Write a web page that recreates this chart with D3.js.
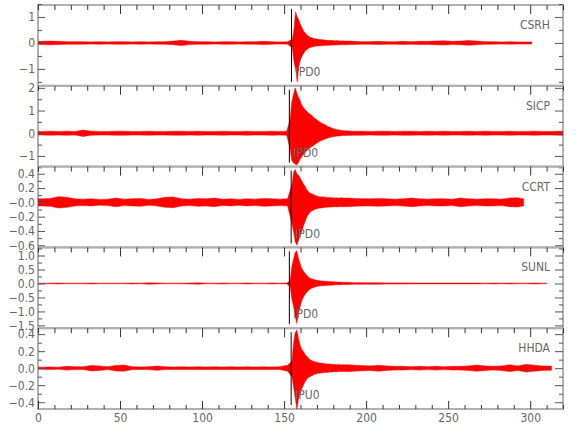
<!DOCTYPE html>
<html>
<head>
<meta charset="utf-8">
<script src="https://cdn.jsdelivr.net/npm/d3@7"></script>
<style>
  body { margin: 0; background: #fff; }
  svg text { font-family: "DejaVu Sans", sans-serif; font-stretch: condensed; fill: #666; font-size: 12px; }
</style>
</head>
<body>
<svg id="chart" width="580" height="440"></svg>
<script>
// station metadata
const stations = ["CSRH", "SICP", "CCRT", "SUNL", "HHDA"];
const pickLabels = ["IPD0", "IPD0", "IPD0", "IPD0", "IPU0"];
const pickTimes = [154.5, 153.2, 154.3, 153.2, 154.3];
const traceEnds = [301, 320, 296, 310, 313];

// y axes per panel
const yDomains = [[-1.65, 1.46], [-1.47, 2.09], [-0.63, 0.5], [-1.6, 1.29], [-0.48, 0.47]];
const yMajor = [[1, 0, -1], [2, 1, 0, -1], [0.4, 0.2, 0, -0.2, -0.4, -0.6], [1, 0.5, 0, -0.5, -1, -1.5], [0.4, 0.2, 0, -0.2, -0.4]];
const yLabels = [["1", "0", "−1"], ["2", "1", "0", "−1"], ["0.4", "0.2", "−0.0", "−0.2", "−0.4", "−0.6"],
                 ["1.0", "0.5", "0.0", "−0.5", "−1.0", "−1.5"], ["0.4", "0.2", "0.0", "−0.2", "−0.4"]];
const yMinor = [[1.5, 0.5, -0.5, -1.5], [1.5, 0.5, -0.5, -1.5], [0.3, 0.1, -0.1, -0.3, -0.5],
                [1.25, 0.75, 0.25, -0.25, -0.75, -1.25], [0.3, 0.1, -0.1, -0.3]];

// x axis
const xTicks = [0, 50, 100, 150, 200, 250, 300];
const xMinorTicks = [0, 10, 20, 30, 40, 60, 70, 80, 90, 110, 120, 130, 140, 160, 170, 180, 190,
                     210, 220, 230, 240, 260, 270, 280, 290, 310, 320];

// background noise half-amplitude, one value per 5 s
const noiseStep = 5;
const csrhNoise = [0.06,0.07,0.06,0.05,0.05,0.05,0.04,0.05,0.04,0.05,
                   0.05,0.04,0.05,0.04,0.05,0.05,0.07,0.1,0.06,0.05,
                   0.05,0.04,0.05,0.05,0.04,0.05,0.05,0.06,0.05,0.04,
                   0.05,0.3,0.2,0.12,0.1,0.08,0.08,0.07,0.06,0.05,
                   0.05,0.06,0.05,0.05,0.06,0.05,0.06,0.06,0.07,0.08,
                   0.06,0.07,0.09,0.07,0.05,0.05,0.04,0.05,0.04,0.04,0.04];
const sicpNoise = [0.08,0.09,0.08,0.09,0.08,0.14,0.09,0.08,0.08,0.09,
                   0.09,0.08,0.08,0.09,0.08,0.08,0.09,0.09,0.08,0.09,
                   0.08,0.08,0.09,0.08,0.08,0.09,0.08,0.08,0.09,0.08,
                   0.09,1.0,0.6,0.3,0.15,0.12,0.11,0.1,0.09,0.09,
                   0.08,0.09,0.09,0.08,0.09,0.09,0.08,0.09,0.08,0.09,
                   0.08,0.08,0.09,0.08,0.09,0.08,0.08,0.09,0.08,0.08,
                   0.09,0.08,0.08,0.09];
const ccrtNoise = [0.05,0.055,0.08,0.07,0.05,0.045,0.05,0.04,0.045,0.06,
                   0.045,0.05,0.055,0.04,0.05,0.07,0.075,0.05,0.045,0.055,
                   0.05,0.06,0.045,0.05,0.04,0.05,0.045,0.055,0.05,0.045,
                   0.05,0.4,0.2,0.1,0.08,0.07,0.06,0.055,0.055,0.05,
                   0.05,0.055,0.05,0.045,0.05,0.06,0.05,0.045,0.05,0.05,
                   0.045,0.06,0.05,0.045,0.05,0.05,0.045,0.06,0.065,0.05];
const sunlNoise = [0.012,0.012,0.015,0.012,0.012,0.012,0.015,0.012,0.012,0.012,
                   0.012,0.015,0.012,0.025,0.015,0.012,0.012,0.012,0.015,0.025,
                   0.012,0.012,0.015,0.012,0.012,0.015,0.012,0.012,0.015,0.012,
                   0.015,0.5,0.2,0.1,0.07,0.05,0.04,0.04,0.03,0.03,
                   0.025,0.025,0.02,0.02,0.02,0.015,0.015,0.015,0.015,0.015,
                   0.015,0.015,0.015,0.015,0.012,0.015,0.012,0.015,0.012,0.012,0.015,0.012];
const hhdaNoise = [0.012,0.015,0.012,0.022,0.017,0.017,0.032,0.027,0.017,0.032,
                   0.036,0.017,0.015,0.017,0.025,0.017,0.015,0.017,0.015,0.017,
                   0.015,0.017,0.015,0.017,0.015,0.017,0.015,0.017,0.015,0.017,
                   0.035,0.3,0.15,0.08,0.06,0.05,0.045,0.04,0.035,0.03,
                   0.027,0.035,0.027,0.022,0.022,0.017,0.022,0.017,0.022,0.017,
                   0.022,0.022,0.027,0.036,0.027,0.022,0.027,0.04,0.027,0.045,
                   0.035,0.027,0.025];

// event envelope, one value per 1 s after the pick
const eventStep = 1;
const csrhUp = [0.15,0.5,1.2,1.0,0.88,0.7,0.58,0.45,0.38,0.3,0.26,0.22,0.2,0.17,0.16,0.15,0.14,0.13,
                0.12,0.12,0.11,0.1,0.1,0.09,0.1,0.09,0.08,0.09,0.08,0.08,0.07,0.08,0.07,0.07,0.07,0.07];
const csrhDn = [-0.2,-0.7,-1.0,-1.5,-0.9,-0.65,-0.5,-0.4,-0.3,-0.25,-0.2,-0.18,-0.16,-0.14,-0.13,-0.12,-0.12,-0.11,
                -0.11,-0.1,-0.1,-0.09,-0.09,-0.09,-0.08,-0.08,-0.08,-0.08,-0.07,-0.07,-0.07,-0.07,-0.07,-0.07,-0.06,-0.06];
const sicpUp = [0.6,1.4,1.7,2.0,1.8,1.6,1.45,1.25,1.15,1.05,0.98,0.9,0.85,0.8,0.72,0.66,0.6,0.55,
                0.5,0.45,0.42,0.38,0.34,0.3,0.27,0.24,0.21,0.19,0.17,0.15,0.14,0.13,0.12,0.11,0.11,0.1];
const sicpDn = [-0.7,-1.2,-1.3,-1.35,-1.4,-1.3,-1.15,-1.05,-0.95,-0.85,-0.78,-0.7,-0.65,-0.6,-0.55,-0.5,-0.45,-0.4,
                -0.36,-0.32,-0.3,-0.27,-0.24,-0.21,-0.19,-0.17,-0.15,-0.14,-0.13,-0.12,-0.12,-0.11,-0.1,-0.1,-0.1,-0.09];
const ccrtUp = [0.25,0.42,0.46,0.4,0.38,0.34,0.3,0.26,0.22,0.18,0.15,0.13,0.12,0.11,0.1,0.09,0.08,0.08,
                0.075,0.08,0.07,0.07,0.065,0.07,0.065,0.065,0.06,0.065,0.06,0.06,0.065,0.06,0.06,0.06,0.06,0.06];
const ccrtDn = [-0.3,-0.41,-0.55,-0.6,-0.53,-0.46,-0.4,-0.33,-0.27,-0.21,-0.17,-0.14,-0.12,-0.11,-0.1,-0.09,-0.085,-0.08,
                -0.08,-0.075,-0.07,-0.07,-0.07,-0.065,-0.065,-0.065,-0.06,-0.065,-0.06,-0.06,-0.06,-0.06,-0.06,-0.06,-0.06,-0.06];
const sunlUp = [0.1,0.6,0.85,1.1,1.18,0.92,0.72,0.55,0.45,0.37,0.3,0.24,0.2,0.17,0.15,0.13,0.12,0.11,
                0.1,0.09,0.085,0.08,0.075,0.07,0.07,0.065,0.06,0.06,0.055,0.05,0.05,0.05,0.045,0.045,0.04,0.04];
const sunlDn = [-0.1,-0.55,-0.8,-1.15,-1.43,-1.1,-0.85,-0.63,-0.5,-0.4,-0.32,-0.26,-0.21,-0.17,-0.15,-0.13,-0.11,-0.1,
                -0.09,-0.085,-0.08,-0.075,-0.07,-0.065,-0.06,-0.06,-0.055,-0.05,-0.05,-0.05,-0.045,-0.045,-0.04,-0.04,-0.04,-0.04];
const hhdaUp = [0.08,0.3,0.42,0.45,0.35,0.27,0.22,0.2,0.16,0.14,0.12,0.1,0.09,0.08,0.075,0.07,0.065,0.06,
                0.06,0.055,0.055,0.05,0.05,0.05,0.045,0.045,0.045,0.04,0.045,0.04,0.04,0.04,0.04,0.04,0.04,0.04];
const hhdaDn = [-0.1,-0.22,-0.35,-0.49,-0.36,-0.3,-0.24,-0.2,-0.16,-0.13,-0.11,-0.1,-0.09,-0.08,-0.07,-0.065,-0.06,-0.06,
                -0.055,-0.055,-0.05,-0.05,-0.05,-0.045,-0.045,-0.045,-0.04,-0.045,-0.04,-0.04,-0.04,-0.04,-0.04,-0.04,-0.04,-0.04];

const noises = [csrhNoise, sicpNoise, ccrtNoise, sunlNoise, hhdaNoise];
const ups = [csrhUp, sicpUp, ccrtUp, sunlUp, hhdaUp];
const dns = [csrhDn, sicpDn, ccrtDn, sunlDn, hhdaDn];

const dims = { left: 38, right: 563, top: 5, bottom: 409 };
const panelH = (dims.bottom - dims.top) / stations.length;

const svg = d3.select("#chart");

const x = d3.scaleLinear().domain([0, 320]).range([dims.left, dims.right]);

// One point per bin (at bin centre): noise before the pick, event after, then noise again
function buildTrace(noise, up, dn, pick, end) {
  const pts = [];
  const evEnd = pick + up.length * eventStep;
  noise.forEach((a, i) => {
    const t0 = i * noiseStep, t1 = Math.min(t0 + noiseStep, end);
    if (t0 < pick) {
      const e = Math.min(t1, pick);
      pts.push({ t: (t0 + e) / 2, hi: a, lo: -a });
    }
    if (t1 > evEnd) {
      const s = Math.max(t0, evEnd);
      pts.push({ t: (s + t1) / 2, hi: a, lo: -a });
    }
  });
  up.forEach((u, i) => pts.push({ t: pick + (i + 0.5) * eventStep, hi: u, lo: dn[i] }));
  pts.sort((a, b) => a.t - b.t);
  // pin the ends of the trace to its first / last samples
  pts.unshift({ t: 0, hi: noise[0], lo: -noise[0] });
  pts.push({ t: end, hi: noise[noise.length - 1], lo: -noise[noise.length - 1] });
  return pts;
}

stations.forEach((name, i) => {
  const top = dims.top + i * panelH;
  const bot = top + panelH;
  const y = d3.scaleLinear().domain(yDomains[i]).range([bot, top]);
  const g = svg.append("g");

  // clip so big swings stay inside the panel
  svg.append("clipPath").attr("id", "clip" + i)
    .append("rect").attr("x", dims.left).attr("y", top).attr("width", dims.right - dims.left).attr("height", panelH);

  // frame
  g.append("rect")
    .attr("x", dims.left).attr("y", top)
    .attr("width", dims.right - dims.left).attr("height", panelH)
    .attr("fill", "none").attr("stroke", "#b0b0b0").attr("stroke-width", 2);

  // trace
  const data = buildTrace(noises[i], ups[i], dns[i], pickTimes[i], traceEnds[i]);
  const area = d3.area().x(d => x(d.t)).y0(d => y(d.lo)).y1(d => y(d.hi));
  g.append("path")
    .datum(data)
    .attr("clip-path", `url(#clip${i})`)
    .attr("d", area)
    .attr("fill", "#ff0000")
    .attr("stroke", "#ff0000")
    .attr("stroke-width", 0.5)
    .attr("stroke-linejoin", "round");

  // pick line + label
  g.append("line")
    .attr("x1", x(pickTimes[i])).attr("x2", x(pickTimes[i]))
    .attr("y1", top + 4).attr("y2", bot - 4)
    .attr("stroke", "#000").attr("stroke-width", 1);
  g.append("text")
    .attr("x", x(pickTimes[i]) + 4)
    .attr("y", top + 71)
    .text(pickLabels[i]);

  // station name
  g.append("text")
    .attr("x", 550).attr("y", top + 24)
    .attr("text-anchor", "end")
    .text(name);

  // left y ticks (inward) with labels
  g.append("g")
    .attr("transform", `translate(${dims.left},0)`)
    .attr("color", "#555")
    .call(d3.axisLeft(y).tickValues(yMajor[i]).tickSize(-7).tickPadding(3)
      .tickFormat((d, k) => yLabels[i][k]))
    .call(a => a.select(".domain").remove());
  g.append("g")
    .attr("transform", `translate(${dims.left},0)`)
    .attr("color", "#555")
    .call(d3.axisLeft(y).tickValues(yMinor[i]).tickSize(-4).tickFormat(""))
    .call(a => a.select(".domain").remove());

  // right y ticks (inward)
  g.append("g")
    .attr("transform", `translate(${dims.right},0)`)
    .attr("color", "#555")
    .call(d3.axisRight(y).tickValues(yMajor[i]).tickSize(-8).tickFormat(""))
    .call(a => a.select(".domain").remove());
  g.append("g")
    .attr("transform", `translate(${dims.right},0)`)
    .attr("color", "#555")
    .call(d3.axisRight(y).tickValues(yMinor[i]).tickSize(-4).tickFormat(""))
    .call(a => a.select(".domain").remove());

  // top x ticks (inward)
  g.append("g")
    .attr("transform", `translate(0,${top})`)
    .attr("color", "#333")
    .call(d3.axisTop(x).tickValues(xMinorTicks).tickSize(-5).tickFormat(""))
    .call(a => a.select(".domain").remove());
  g.append("g")
    .attr("transform", `translate(0,${top})`)
    .attr("color", "#333")
    .call(d3.axisTop(x).tickValues(xTicks.slice(1)).tickSize(-9).tickFormat(""))
    .call(a => a.select(".domain").remove());

  // bottom x axis on the last panel
  if (i === stations.length - 1) {
    g.append("g")
      .attr("transform", `translate(0,${bot})`)
      .attr("color", "#333")
      .call(d3.axisBottom(x).tickValues(xMinorTicks).tickSize(-4).tickFormat(""))
      .call(a => a.select(".domain").remove());
    g.append("g")
      .attr("transform", `translate(0,${bot})`)
      .attr("color", "#333")
      .call(d3.axisBottom(x).tickValues(xTicks).tickSize(-8).tickPadding(4))
      .call(a => a.select(".domain").remove());
  }
});
</script>
</body>
</html>
